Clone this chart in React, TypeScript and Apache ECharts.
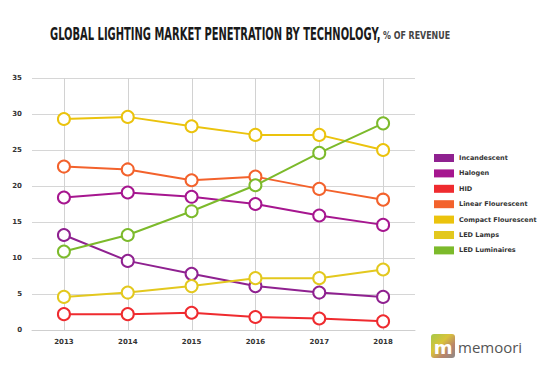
import React, { useEffect, useRef } from "react";
import * as echarts from "echarts";

const years = ["2013", "2014", "2015", "2016", "2017", "2018"];
const incandescent = [13.2, 9.6, 7.8, 6.1, 5.2, 4.6];
const halogen = [18.4, 19.1, 18.5, 17.5, 15.9, 14.6];
const hid = [2.2, 2.2, 2.4, 1.8, 1.6, 1.2];
const linearFlourescent = [22.7, 22.3, 20.8, 21.3, 19.6, 18.1];
const compactFlourescent = [29.3, 29.6, 28.3, 27.1, 27.1, 25.0];
const ledLamps = [4.6, 5.2, 6.1, 7.2, 7.2, 8.4];
const ledLuminaires = [10.9, 13.2, 16.5, 20.1, 24.6, 28.7];

const seriesDefs = [
  { name: "Incandescent", data: incandescent, color: "#8f2190" },
  { name: "Halogen", data: halogen, color: "#a6168f" },
  { name: "HID", data: hid, color: "#ef2b2f" },
  { name: "Linear Flourescent", data: linearFlourescent, color: "#f3622c" },
  { name: "Compact Flourescent", data: compactFlourescent, color: "#ebc30d" },
  { name: "LED Lamps", data: ledLamps, color: "#e3c81e" },
  { name: "LED Luminaires", data: ledLuminaires, color: "#7cba2b" },
];

export default function App() {
  const ref = useRef<HTMLDivElement>(null);
  useEffect(() => {
    if (!ref.current) return;
    const chart = echarts.init(ref.current, undefined, { renderer: "svg" });
    chart.setOption({
      animation: false,
      backgroundColor: "#ffffff",
      legend: {
        orient: "vertical",
        left: 434,
        top: 154,
        padding: 0,
        itemWidth: 20,
        itemHeight: 8,
        itemGap: 7.4,
        textStyle: {
          fontFamily: "DejaVu Sans",
          fontWeight: "bold",
          fontSize: 6.5,
          lineHeight: 8,
          color: "#333",
        },
        data: seriesDefs.map((s) => ({
          name: s.name,
          icon: "rect",
          itemStyle: { color: s.color, borderWidth: 0 },
        })),
      },
      grid: { left: 32, right: 134, top: 78, bottom: 40, containLabel: false },
      xAxis: {
        type: "category",
        data: years,
        boundaryGap: true,
        axisLine: { show: true, lineStyle: { color: "#cfcfcf", width: 1 } },
        axisTick: { show: false },
        axisLabel: {
          margin: 8,
          fontFamily: "DejaVu Sans",
          fontWeight: "bold",
          fontSize: 7,
          color: "#333",
        },
        splitLine: { show: false },
      },
      yAxis: {
        type: "value",
        min: 0,
        max: 35,
        interval: 5,
        axisLine: { show: false },
        axisTick: { show: false },
        axisLabel: {
          margin: 10,
          fontFamily: "DejaVu Sans",
          fontWeight: "bold",
          fontSize: 7,
          color: "#333",
        },
        splitLine: { show: true, lineStyle: { color: "#d6d6d6", width: 1 } },
      },
      series: [
        {
          type: "custom",
          name: "vgrid",
          silent: true,
          z: 1,
          data: years.map((y) => [y]),
          encode: { x: 0 },
          renderItem: (params: any, api: any) => {
            const cs = params.coordSys;
            const x = Math.round(api.coord([api.value(0), 0])[0]) + 0.5;
            return {
              type: "line",
              shape: { x1: x, y1: cs.y, x2: x, y2: cs.y + cs.height },
              style: { stroke: "#d2d2d2", lineWidth: 1 },
            };
          },
        },
        ...seriesDefs.map((s) => ({
          name: s.name,
          type: "line",
          data: s.data,
          z: 3,
          symbol: "circle",
          symbolSize: 12,
          showSymbol: true,
          color: s.color,
          lineStyle: { color: s.color, width: 2 },
          itemStyle: { color: "#ffffff", borderColor: s.color, borderWidth: 2 },
        })),
      ],
      graphic: [
        {
          type: "text",
          x: 50,
          y: 34,
          scaleX: 0.65,
          style: {
            text: "GLOBAL LIGHTING MARKET PENETRATION BY TECHNOLOGY,",
            fill: "#1a1a1a",
            fontFamily: "DejaVu Sans Condensed",
            fontWeight: "bold",
            fontSize: 17,
            align: "left",
            verticalAlign: "middle",
          },
        },
        {
          type: "text",
          x: 383,
          y: 35.5,
          scaleX: 0.8,
          style: {
            text: "% OF REVENUE",
            fill: "#444",
            fontFamily: "DejaVu Sans Condensed",
            fontWeight: "bold",
            fontSize: 11,
            align: "left",
            verticalAlign: "middle",
          },
        },
        {
          type: "group",
          x: 431,
          y: 334,
          children: [
            {
              type: "rect",
              shape: { x: 0, y: 0, width: 24, height: 24, r: 3 },
              style: {
                fill: new echarts.graphic.LinearGradient(0, 0, 1, 1, [
                  { offset: 0, color: "#a6c94a" },
                  { offset: 0.4, color: "#d9c43a" },
                  { offset: 0.7, color: "#b9836a" },
                  { offset: 1, color: "#8a8a8a" },
                ]),
              },
            },
            {
              type: "text",
              x: 12,
              y: 13,
              style: {
                text: "m",
                fill: "#ffffff",
                fontFamily: "DejaVu Sans",
                fontWeight: "bold",
                fontSize: 18,
                align: "center",
                verticalAlign: "middle",
              },
            },
            {
              type: "text",
              x: 27,
              y: 13,
              style: {
                text: "memoori",
                fill: "#555",
                fontFamily: "Open Sans",
                fontSize: 15,
                align: "left",
                verticalAlign: "middle",
              },
            },
          ],
        },
      ],
    });
    return () => chart.dispose();
  }, []);
  return (
    <div
      ref={ref}
      style={{ position: "absolute", left: 0, top: 0, width: 549, height: 370 }}
    />
  );
}
